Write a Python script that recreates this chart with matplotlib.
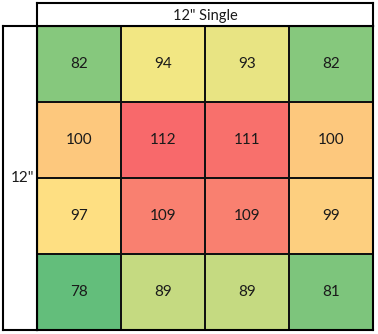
import numpy as np
import matplotlib.pyplot as plt
from matplotlib.colors import LinearSegmentedColormap, TwoSlopeNorm

# Sample Data
values = np.array([
    [82, 94, 93, 82],
    [100, 112, 111, 100],
    [97, 109, 109, 99],
    [78, 89, 89, 81],
])
col_title = '12" Single'
row_title = '12"'

plt.rcParams['font.family'] = ['Lato', 'DejaVu Sans']

W, H = 378, 334
fig = plt.figure(figsize=(W / 100, H / 100), dpi=100)
fig.patch.set_facecolor('white')


def px_axes(x0, y0, x1, y1):
    return fig.add_axes([x0 / W, 1 - y1 / H, (x1 - x0) / W, (y1 - y0) / H])


# Excel-like 3 colour scale: green - yellow - red, midpoint at median
cmap = LinearSegmentedColormap.from_list('gyr', ['#63BE7B', '#FFEB84', '#F8696B'])
norm = TwoSlopeNorm(vcenter=np.median(values), vmin=values.min(), vmax=values.max())

ax = px_axes(37, 26, 373, 330)
ax.pcolormesh(values, cmap=cmap, norm=norm, edgecolors='#111111', linewidth=1.2)
ax.set_xlim(0, values.shape[1])
ax.set_ylim(values.shape[0], 0)
for i in range(values.shape[0]):
    for j in range(values.shape[1]):
        ax.text(j + 0.5, i + 0.5, str(values[i, j]), ha='center', va='center',
                fontsize=11, color='#1a1a1a')
ax.set_xticks([])
ax.set_yticks([])
for s in ax.spines.values():
    s.set_linewidth(1.5)
    s.set_color('black')

# header box
hx = px_axes(37, 3, 373, 26)
hx.text(0.5, 0.45, col_title, ha='center', va='center', fontsize=10.5, color='#1a1a1a')
hx.set_xticks([])
hx.set_yticks([])
for s in hx.spines.values():
    s.set_linewidth(1.5)

# row label box
rx = px_axes(3, 26, 37, 330)
rx.text(0.58, 0.5, row_title, ha='center', va='center', fontsize=11, color='#1a1a1a')
rx.set_xticks([])
rx.set_yticks([])
for s in rx.spines.values():
    s.set_linewidth(1.5)

fig.savefig('out.png', dpi=100)
